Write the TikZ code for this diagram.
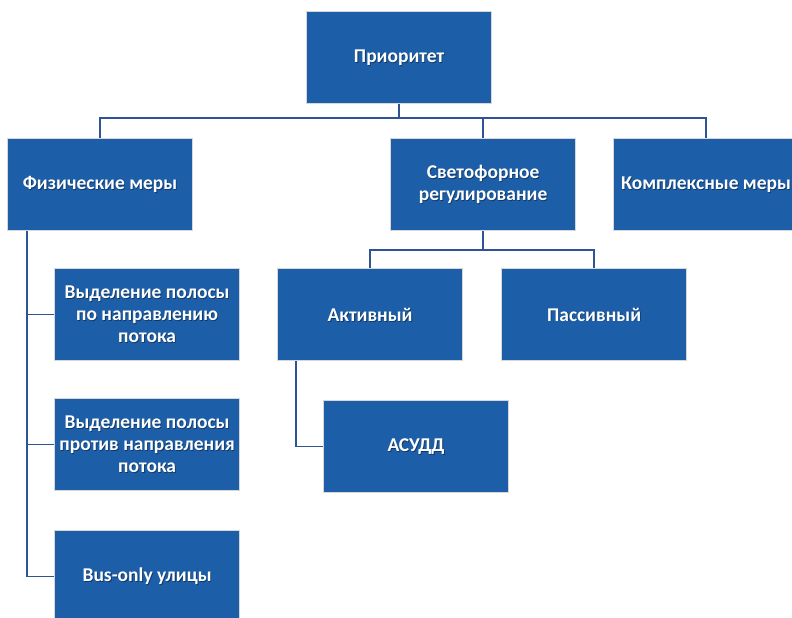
\documentclass[tikz,border=0pt]{standalone}
\usepackage{fontspec}
\setmainfont{Carlito}
\definecolor{boxblue}{RGB}{28,94,168}
\definecolor{boxedge}{RGB}{215,215,215}
\definecolor{linkblue}{RGB}{47,84,150}
% caption of a box: a soft dark copy under the white text
\newcommand{\boxtext}[2]{%
  \node[boxshadow, xshift=0.8pt, yshift=-0.8pt] at (#1.center) {#2};
  \node[boxcaption] at (#1.center) {#2};}
\begin{document}
\begin{tikzpicture}[x=1pt, y=-1pt,
  unit/.style={draw=boxedge, line width=1.2pt, fill=boxblue,
    minimum width=185pt, minimum height=92pt, inner sep=0pt, anchor=north west},
  boxcaption/.style={text=white, font=\bfseries\fontsize{19.5}{22}\selectfont, align=center},
  boxshadow/.style={text=black, opacity=0.4, font=\bfseries\fontsize{19.5}{22}\selectfont, align=center},
  link/.style={draw=linkblue, line width=1.4pt}]
\useasboundingbox (0,0) rectangle (792,618);
\clip (0,0) rectangle (792,618);

% boxes
\node[unit] (top)     at (306,11)  {};
\node[unit] (phys)    at (7,138)   {};
\node[unit] (light)   at (390,138) {};
\node[unit] (complex) at (613,138) {};
\node[unit] (lane1)   at (54,268)  {};
\node[unit] (lane2)   at (54,398)  {};
\node[unit] (bus)     at (54,530)  {};
\node[unit] (active)  at (277,268) {};
\node[unit] (passive) at (501,268) {};
\node[unit] (asudd)   at (323,400) {};

% helper positions of the connector bars
\coordinate (bar1) at (0,118);
\coordinate (bar2) at (0,250);
\coordinate (spine) at (27,0);
\coordinate (spine2) at (296,0);

% connectors
\draw[link] (top.south) -- (top.south |- bar1);
\draw[link] (phys.north) -- (phys.north |- bar1) -- (complex.north |- bar1) -- (complex.north);
\draw[link] (light.north |- bar1) -- (light.north);
\draw[link] (light.south) -- (light.south |- bar2);
\draw[link] (active.north) -- (active.north |- bar2) -- (passive.north |- bar2) -- (passive.north);
\draw[link] (phys.south -| spine) -- (spine |- bus.west) -- (bus.west);
\draw[link] (spine |- lane1.west) -- (lane1.west);
\draw[link] (spine |- lane2.west) -- (lane2.west);
\draw[link] (active.south -| spine2) |- (asudd.west);

% captions
\boxtext{top}{Приоритет}
\boxtext{phys}{Физические меры}
\boxtext{light}{Светофорное\\регулирование}
\boxtext{complex}{Комплексные меры}
\boxtext{lane1}{Выделение полосы\\по направлению\\потока}
\boxtext{lane2}{Выделение полосы\\против направления\\потока}
\boxtext{bus}{Bus-only улицы}
\boxtext{active}{Активный}
\boxtext{passive}{Пассивный}
\boxtext{asudd}{АСУДД}
\end{tikzpicture}
\end{document}
